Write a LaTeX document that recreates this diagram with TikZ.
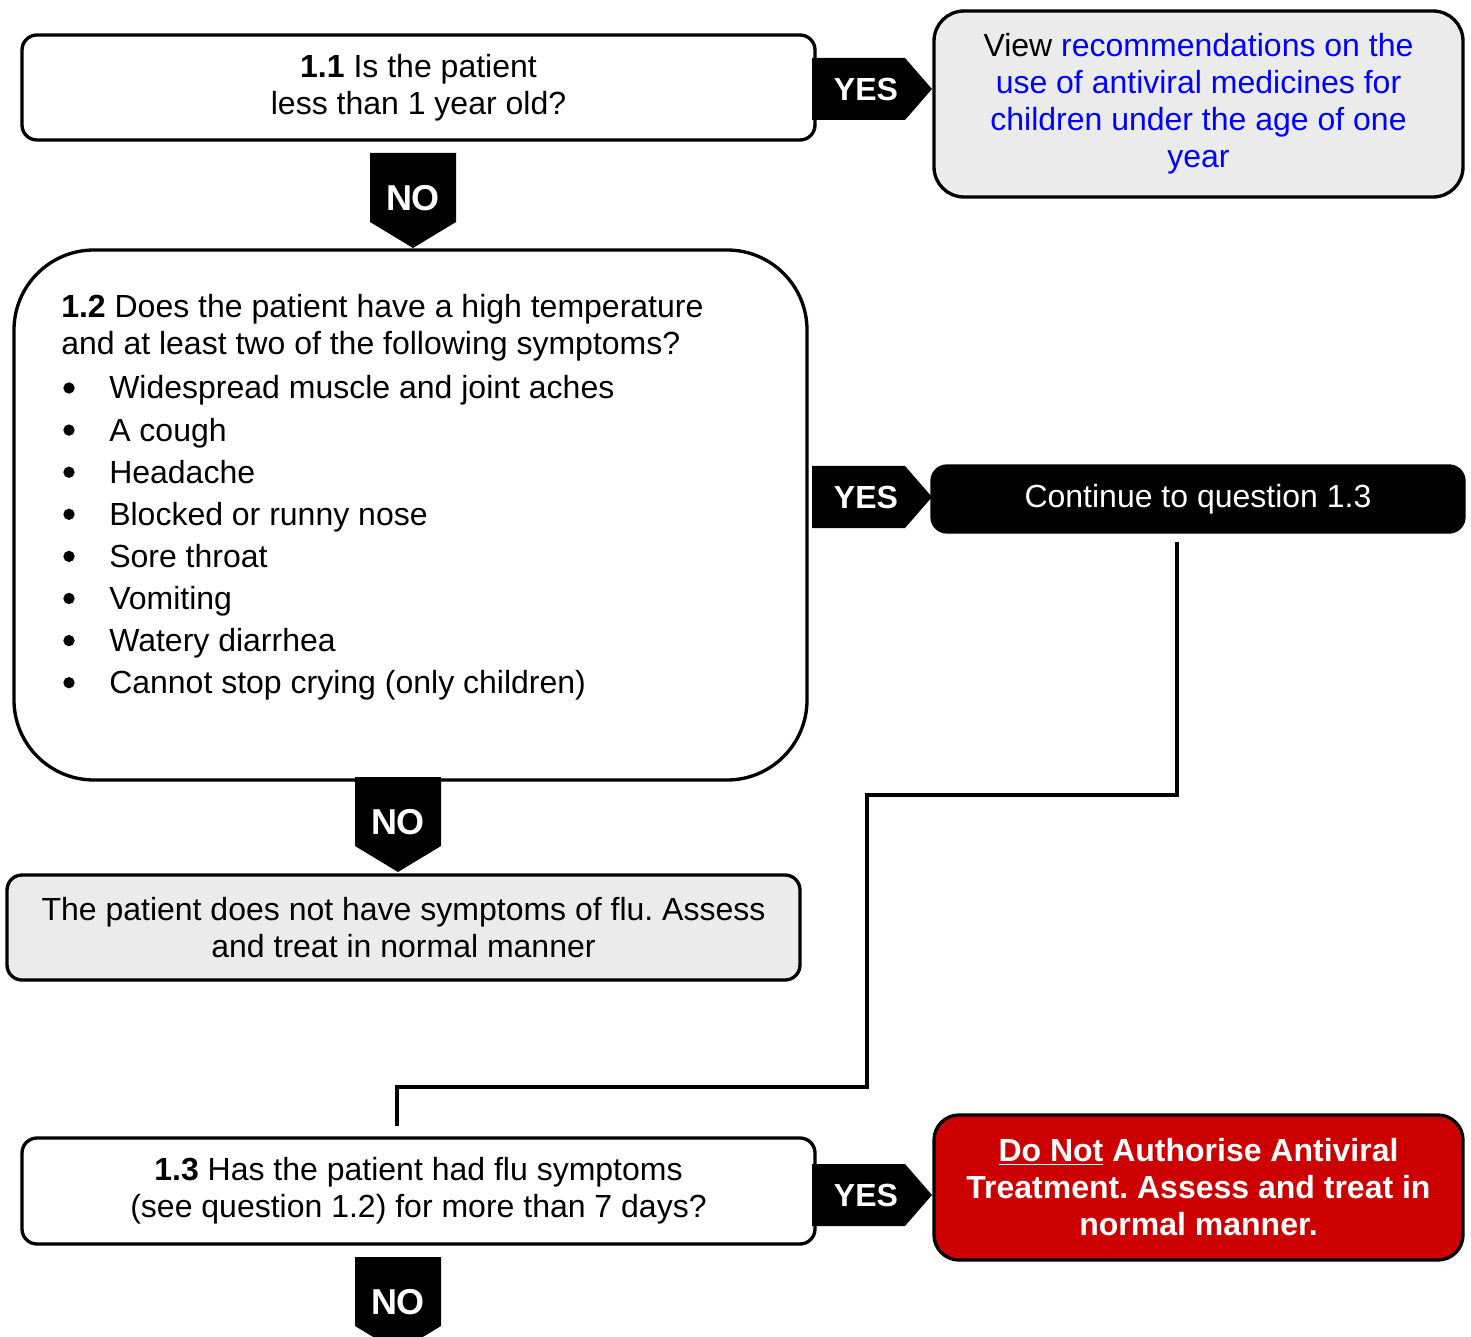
\documentclass[tikz,border=0pt]{standalone}
\usepackage{fontspec}
\setmainfont{Liberation Sans}
\usetikzlibrary{positioning}
\frenchspacing

\definecolor{boxgray}{RGB}{235,235,235}
\definecolor{stopred}{RGB}{204,0,0}
\definecolor{linkblue}{RGB}{0,0,255}
\newcommand{\chartsize}{\fontsize{24}{27.75}\selectfont}

\tikzset{
	box/.style={draw, line width=2.5pt, inner sep=0pt, align=center, font=\chartsize, minimum width=594.75pt},
	sidebox/.style={box, minimum width=396.75pt},
	tag/.style={text=white, font=\chartsize\bfseries, inner sep=0pt},
	item/.style={font=\chartsize, inner sep=0pt},
	dot/.style={circle, fill, inner sep=0pt, minimum size=8.5pt},
	link/.style={line width=3pt}
}

\begin{document}
\begin{tikzpicture}[x=0.75pt,y=-0.75pt]
	\useasboundingbox (0,0) rectangle (1471,1337);
	\clip (0,0) rectangle (1471,1337);

	\node[box, rounded corners=11.25pt, minimum height=78.75pt] (q11) at (418.5,87.5) {\textbf{1.1} Is the patient\\less than 1 year old?};
	\node[sidebox, fill=boxgray, rounded corners=22.5pt, minimum height=139.5pt] (view) at (1198.5,104) {View \textcolor{linkblue}{recommendations on the}\\\textcolor{linkblue}{use of antiviral medicines for}\\\textcolor{linkblue}{children under the age of one}\\\textcolor{linkblue}{year}};

	\node[box, rounded corners=60pt, minimum height=397.5pt] (q12) at (410.5,515) {};
	\node[item, anchor=base west, align=left] (q12text) at (61,355) {\textbf{1.2} Does the patient have a high temperature\\and at least two of the following symptoms?};
	\foreach \t [count=\i from 0] in {Widespread muscle and joint aches, A cough, Headache, Blocked or runny nose, Sore throat, Vomiting, Watery diarrhea, Cannot stop crying (only children)} {
		\node[dot] (dot\i) at (69,388+42.1*\i) {};
		\node[item, anchor=base west] (item\i) at (109,399+42.1*\i) {\t};
	}

	\node[sidebox, fill=black, text=white, rounded corners=11.25pt, minimum width=399pt, minimum height=49.5pt] (cont) at (1198,499) {Continue to question 1.3};

	\node[box, fill=boxgray, rounded corners=11.25pt, minimum height=78.75pt] (noflu) at (403.5,927.5) {The patient does not have symptoms of flu. Assess\\and treat in normal manner};

	\node[box, rounded corners=11.25pt, minimum height=79.5pt] (q13) at (418.5,1191) {\textbf{1.3} Has the patient had flu symptoms\\(see question 1.2) for more than 7 days?};
	\node[sidebox, fill=stopred, text=white, font=\chartsize\bfseries, rounded corners=18.75pt, minimum height=108.75pt] (stop) at (1198.5,1187.5) {\underline{Do Not} Authorise Antiviral\\Treatment. Assess and treat in\\normal manner.};

	\coordinate (c0) at (1177,795);
	\coordinate (c1) at (867,795);
	\coordinate (c2) at (397,1087);
	\draw[link] ([yshift=-6pt]cont.south -| c0) |- (c1) |- (c2) -- ([yshift=8pt]q13.north -| c2);

	\foreach \y/\n in {89/1, 497/2, 1195/3} {
		\fill (812,\y-31) -- (905,\y-31) -- (932,\y) -- (905,\y+31) -- (812,\y+31) -- cycle;
		\node[tag] (yes\n) at (866,\y) {YES};
	}
	\foreach \x/\y/\n in {413/153/1, 398/777/2, 398/1257/3} {
		\fill (\x-43,\y) -- (\x+43,\y) -- (\x+43,\y+69) -- (\x,\y+95) -- (\x-43,\y+69) -- cycle;
		\node[tag, font=\fontsize{27}{30}\selectfont\bfseries] (no\n) at (\x,\y+45) {NO};
	}
\end{tikzpicture}
\end{document}
